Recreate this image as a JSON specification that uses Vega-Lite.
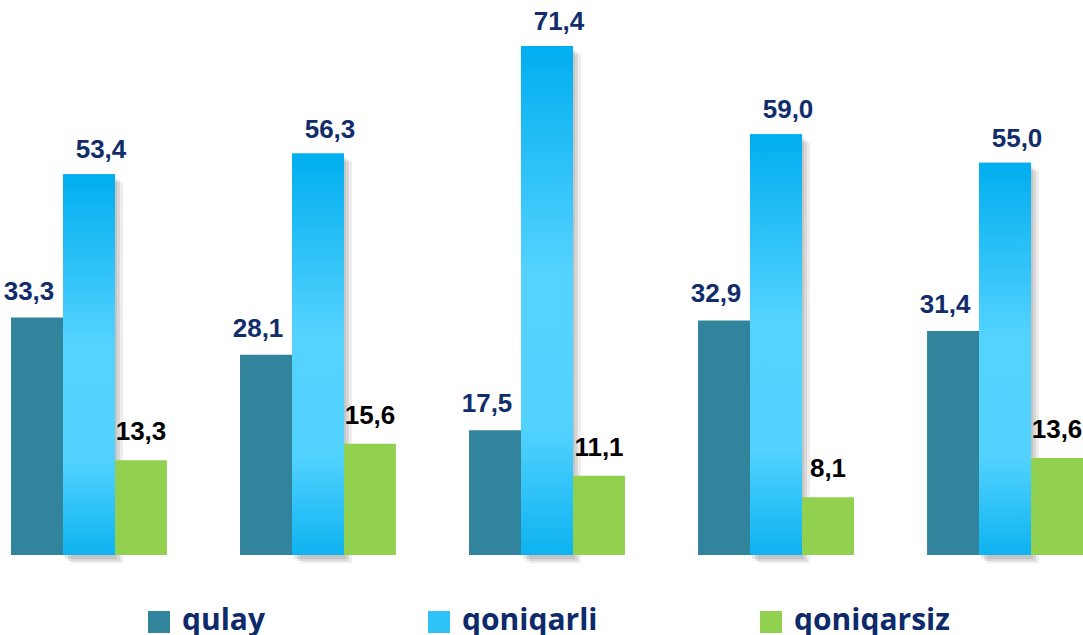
{
  "$schema": "https://vega.github.io/schema/vega-lite/v6.json",
  "width": 1072,
  "height": 555,
  "autosize": {"type": "none"},
  "padding": {"left": 11, "top": 0, "right": 0, "bottom": 80},
  "background": "white",
  "config": {
    "view": {"stroke": null},
    "locale": {"number": {"decimal": ",", "thousands": " ", "grouping": [3], "currency": ["", ""]}}
  },
  "data": {
    "values": [
      {"group": 1, "series": "qulay", "value": 33.3},
      {"group": 1, "series": "qoniqarli", "value": 53.4},
      {"group": 1, "series": "qoniqarsiz", "value": 13.3},
      {"group": 2, "series": "qulay", "value": 28.1},
      {"group": 2, "series": "qoniqarli", "value": 56.3},
      {"group": 2, "series": "qoniqarsiz", "value": 15.6},
      {"group": 3, "series": "qulay", "value": 17.5},
      {"group": 3, "series": "qoniqarli", "value": 71.4},
      {"group": 3, "series": "qoniqarsiz", "value": 11.1},
      {"group": 4, "series": "qulay", "value": 32.9},
      {"group": 4, "series": "qoniqarli", "value": 59.0},
      {"group": 4, "series": "qoniqarsiz", "value": 8.1},
      {"group": 5, "series": "qulay", "value": 31.4},
      {"group": 5, "series": "qoniqarli", "value": 55.0},
      {"group": 5, "series": "qoniqarsiz", "value": 13.6}
    ]
  },
  "encoding": {
    "x": {"field": "group", "type": "ordinal", "axis": null, "scale": {"paddingInner": 0.319, "paddingOuter": 0}},
    "y": {"field": "value", "type": "quantitative", "axis": null, "scale": {"domain": [0, 77.84], "nice": false, "zero": true}}
  },
  "layer": [
    {
      "transform": [{"filter": "datum.series === 'qoniqarli'"}],
      "mark": {"type": "bar", "color": "#000000", "opacity": 0.09, "width": {"band": 0.3333}, "xOffset": 2, "yOffset": 4, "y2Offset": -4},
      "encoding": {}
    },
    {
      "transform": [{"filter": "datum.series === 'qoniqarli'"}],
      "mark": {"type": "bar", "color": "#000000", "opacity": 0.09, "width": {"band": 0.3333}, "xOffset": 5, "yOffset": 6, "y2Offset": -6},
      "encoding": {}
    },
    {
      "transform": [{"filter": "datum.series === 'qoniqarli'"}],
      "mark": {"type": "bar", "color": "#000000", "opacity": 0.07, "width": {"band": 0.3333}, "xOffset": 8, "yOffset": 8, "y2Offset": -8},
      "encoding": {}
    },
    {
      "mark": {"type": "bar", "opacity": 1},
      "encoding": {
        "xOffset": {"field": "series", "type": "nominal", "sort": ["qulay", "qoniqarli", "qoniqarsiz"], "scale": {"paddingInner": 0, "paddingOuter": 0}},
        "color": {
          "field": "series",
          "type": "nominal",
          "sort": ["qulay", "qoniqarli", "qoniqarsiz"],
          "scale": {"domain": ["qulay", "qoniqarli", "qoniqarsiz"], "range": ["#31849b", "#2fc2f6", "#92d050"]},
          "legend": {
            "title": null,
            "orient": "none",
            "direction": "horizontal",
            "legendX": 133,
            "legendY": 607,
            "symbolType": "square",
            "symbolSize": 484,
            "symbolStrokeWidth": 0,
            "symbolOpacity": 1,
            "labelFont": "Open Sans",
            "labelFontWeight": "bold",
            "labelFontSize": 30,
            "labelColor": "#0d2a6b",
            "labelOffset": 8,
            "columnPadding": 158,
            "labelLimit": 300,
            "encode": {"labels": {"update": {"dy": {"value": -1}}}}
          }
        }
      }
    },
    {
      "transform": [{"filter": "datum.series === 'qoniqarli'"}],
      "mark": {
        "type": "bar",
        "color": {
          "gradient": "linear",
          "x1": 0, "y1": 0, "x2": 0, "y2": 1,
          "stops": [
            {"offset": 0, "color": "#00aeef"},
            {"offset": 0.45, "color": "#55d3ff"},
            {"offset": 0.75, "color": "#52d2ff"},
            {"offset": 1, "color": "#0db3f0"}
          ]
        }
      },
      "encoding": {
        "xOffset": {"field": "series", "type": "nominal", "sort": ["qulay", "qoniqarli", "qoniqarsiz"], "scale": {"paddingInner": 0, "paddingOuter": 0}}
      }
    },
    {
      "transform": [{"filter": "datum.series === 'qulay'"}],
      "mark": {"type": "text", "font": "Liberation Sans", "fontWeight": "bold", "fontSize": 26, "color": "#112d6b", "baseline": "alphabetic", "dy": -18, "dx": -8},
      "encoding": {
        "xOffset": {"field": "series", "type": "nominal", "sort": ["qulay", "qoniqarli", "qoniqarsiz"], "scale": {"paddingInner": 0, "paddingOuter": 0}},
        "text": {"field": "value", "type": "quantitative", "format": ".1f"}
      }
    },
    {
      "transform": [{"filter": "datum.series === 'qoniqarli'"}],
      "mark": {"type": "text", "font": "Liberation Sans", "fontWeight": "bold", "fontSize": 26, "color": "#112d6b", "baseline": "alphabetic", "dy": -16, "dx": 12},
      "encoding": {
        "xOffset": {"field": "series", "type": "nominal", "sort": ["qulay", "qoniqarli", "qoniqarsiz"], "scale": {"paddingInner": 0, "paddingOuter": 0}},
        "text": {"field": "value", "type": "quantitative", "format": ".1f"}
      }
    },
    {
      "transform": [{"filter": "datum.series === 'qoniqarsiz'"}],
      "mark": {"type": "text", "font": "Liberation Sans", "fontWeight": "bold", "fontSize": 26, "color": "#000000", "baseline": "alphabetic", "dy": -20, "dx": 0},
      "encoding": {
        "xOffset": {"field": "series", "type": "nominal", "sort": ["qulay", "qoniqarli", "qoniqarsiz"], "scale": {"paddingInner": 0, "paddingOuter": 0}},
        "text": {"field": "value", "type": "quantitative", "format": ".1f"}
      }
    }
  ]
}
